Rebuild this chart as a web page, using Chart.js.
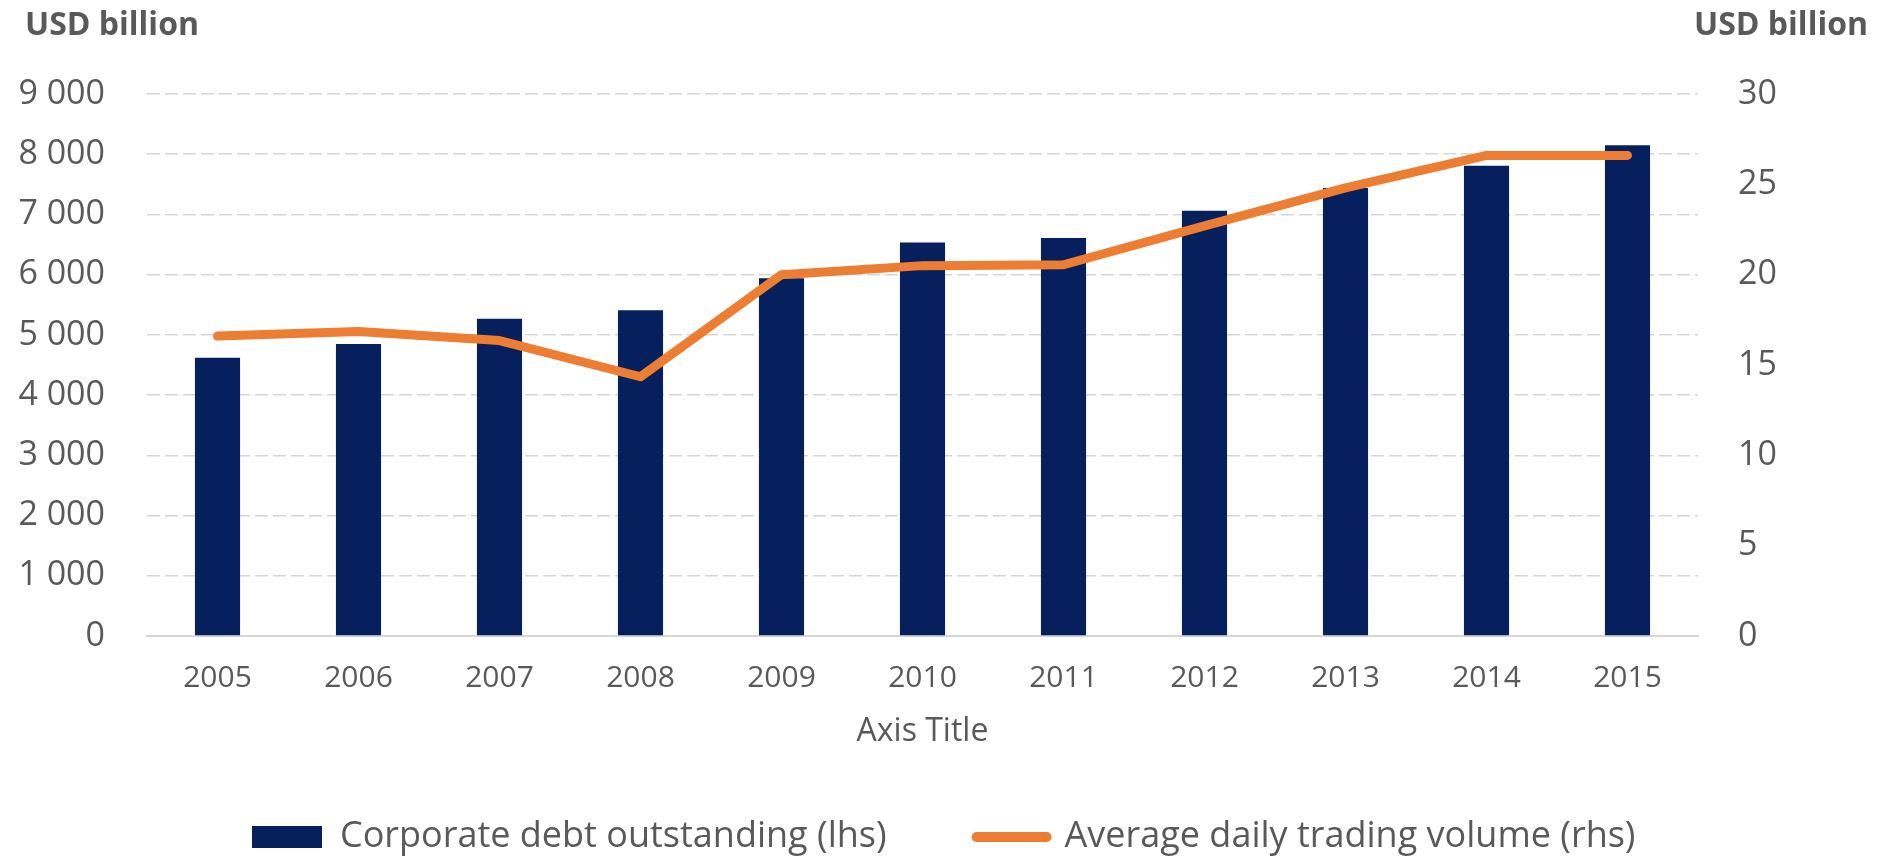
<!DOCTYPE html>
<html>
<head>
<meta charset="utf-8">
<script src="https://cdn.jsdelivr.net/npm/chart.js@4/dist/chart.umd.min.js"></script>
<style>
  html, body { margin: 0; padding: 0; background: #ffffff; }
  #wrap { width: 1883px; height: 858px; }
</style>
</head>
<body>
<div id="wrap"><canvas id="c" width="1883" height="858"></canvas></div>
<script>
// ---- Data ----
const years = ['2005', '2006', '2007', '2008', '2009', '2010', '2011', '2012', '2013', '2014', '2015'];
const corporateDebt = [4620, 4850, 5270, 5410, 5940, 6535, 6610, 7060, 7440, 7810, 8150];
const tradingVolume = [16.6, 16.85, 16.35, 14.35, 20.0, 20.5, 20.55, 22.7, 24.8, 26.6, 26.6];
const seriesNames = ['Corporate debt outstanding (lhs)', 'Average daily trading volume (rhs)'];
const leftAxisTitle = 'USD billion';
const rightAxisTitle = 'USD billion';
const xAxisTitle = 'Axis Title';

const NAVY = '#06205E';
const ORANGE = '#EC7D32';
const TEXT = '#595959';
const GRID = '#D6D6D6';
const FONT = "'Open Sans', 'Noto Sans', sans-serif";
const LEGEND_PAD = 90;

const cornerTitles = {
  id: 'cornerTitles',
  afterDraw(chart) {
    const ctx = chart.ctx;
    ctx.save();
    ctx.font = "bold 32px " + FONT;
    ctx.fillStyle = TEXT;
    ctx.textBaseline = 'middle';
    ctx.textAlign = 'left';
    ctx.fillText(leftAxisTitle, 25, 26);
    ctx.textAlign = 'right';
    ctx.fillText(rightAxisTitle, 1868, 26);
    ctx.restore();
  }
};

const legendPlace = {
  id: 'legendPlace',
  afterLayout(chart) {
    const lg = chart.legend;
    if (!lg) return;
    const w = lg.right - lg.left;
    const h = lg.bottom - lg.top;
    lg.left = 252 - LEGEND_PAD;
    lg.right = lg.left + w;
    lg.top = 837 - LEGEND_PAD - 18;
    lg.bottom = lg.top + h;
  }
};

function fmtThousands(v) {
  return String(v).replace(/\B(?=(\d{3})+(?!\d))/g, ' ');
}

new Chart(document.getElementById('c'), {
  data: {
    labels: years,
    datasets: [
      {
        type: 'bar',
        label: seriesNames[0],
        data: corporateDebt,
        backgroundColor: NAVY,
        borderWidth: 0,
        yAxisID: 'y',
        order: 1,
        categoryPercentage: 1.0,
        barPercentage: 0.32,
        pointStyle: 'rect'
      },
      {
        type: 'line',
        label: seriesNames[1],
        data: tradingVolume,
        borderColor: ORANGE,
        backgroundColor: ORANGE,
        borderWidth: 9,
        pointRadius: 0,
        pointHoverRadius: 0,
        pointBorderWidth: 10,
        pointBorderColor: ORANGE,
        pointBackgroundColor: ORANGE,
        pointStyle: 'line',
        borderJoinStyle: 'round',
        borderCapStyle: 'round',
        tension: 0,
        fill: false,
        yAxisID: 'y1',
        order: 0
      }
    ]
  },
  options: {
    responsive: false,
    animation: false,
    devicePixelRatio: 1,
    layout: { padding: { top: 94, left: 0, right: 0, bottom: 0 } },
    plugins: {
      tooltip: { enabled: false },
      title: { display: false },
      legend: {
        display: true,
        position: 'bottom',
        align: 'start',
        labels: {
          usePointStyle: true,
          pointStyleWidth: 70,
          boxHeight: 22,
          padding: LEGEND_PAD,
          color: TEXT,
          font: { family: FONT, size: 36 },
          generateLabels(chart) {
            const items = Chart.defaults.plugins.legend.labels.generateLabels(chart);
            items.sort((a, b) => a.datasetIndex - b.datasetIndex);
            items.forEach(it => {
              if (it.datasetIndex === 0) {
                it.pointStyle = 'rect';
                it.fillStyle = NAVY;
                it.strokeStyle = NAVY;
                it.lineWidth = 0;
              } else {
                it.pointStyle = 'line';
                it.strokeStyle = ORANGE;
                it.fillStyle = ORANGE;
                it.lineWidth = 10;
                it.lineCap = 'round';
              }
            });
            return items;
          }
        }
      }
    },
    scales: {
      x: {
        type: 'category',
        position: 'bottom',
        offset: true,
        grid: { display: false, drawTicks: false },
        border: { display: true, color: GRID, width: 2 },
        ticks: {
          color: TEXT,
          font: { family: FONT, size: 30 },
          padding: 24,
          maxRotation: 0,
          autoSkip: false
        },
        title: {
          display: true,
          text: xAxisTitle,
          color: TEXT,
          font: { family: FONT, size: 32 },
          padding: { top: 0, bottom: -29 }
        },
        afterFit(s) { s.height = 86; }
      },
      y: {
        type: 'linear',
        position: 'left',
        min: 0,
        max: 9000,
        grid: {
          display: true,
          drawTicks: false,
          color: GRID,
          lineWidth: 1.5
        },
        border: { display: false, dash: [13, 5] },
        ticks: {
          stepSize: 1000,
          color: TEXT,
          font: { family: FONT, size: 34 },
          padding: 42,
          callback: (v) => fmtThousands(v)
        },
        afterFit(s) { s.width = 147; }
      },
      y1: {
        type: 'linear',
        position: 'right',
        min: 0,
        max: 30,
        grid: { display: false, drawOnChartArea: false, drawTicks: false },
        border: { display: false },
        ticks: {
          stepSize: 5,
          color: TEXT,
          font: { family: FONT, size: 34 },
          padding: 40
        },
        afterFit(s) { s.width = 185; }
      }
    }
  },
  plugins: [cornerTitles, legendPlace]
});
</script>
</body>
</html>
